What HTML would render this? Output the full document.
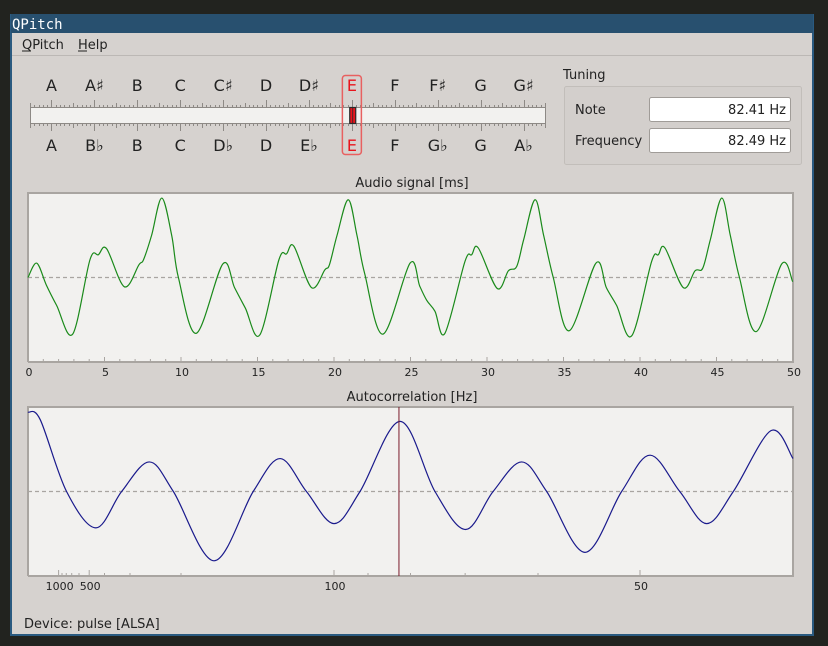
<!DOCTYPE html>
<html><head><meta charset="utf-8"><title>QPitch</title>
<style>
html,body{margin:0;padding:0;background:#22231f;width:828px;height:646px;overflow:hidden}
svg{display:block}
text{font-family:"DejaVu Sans","Liberation Sans",sans-serif;fill:#222}
</style></head>
<body>
<svg id="root" width="828" height="646" viewBox="0 0 828 646" xmlns="http://www.w3.org/2000/svg">
  <rect x="0" y="0" width="828" height="646" fill="#22231f"/>
  <g>
    <rect x="10" y="14" width="804" height="622" fill="#2a5a80"/>
    <rect x="12" y="33" width="800" height="601" fill="#d6d2cf"/>
    <rect x="11" y="14" width="802" height="19" fill="#28506f"/>
    <text x="12" y="29" font-size="14" style="font-family:'DejaVu Sans Mono','Liberation Mono',monospace;fill:#fff">QPitch</text>
    <g>
      <text x="22" y="49" font-size="13">QPitch</text>
      <line x1="22" y1="51" x2="31" y2="51" stroke="#222" stroke-width="1"/>
      <text x="78" y="49" font-size="13">Help</text>
      <line x1="78" y1="51" x2="87" y2="51" stroke="#222" stroke-width="1"/>
      <line x1="12" y1="55.5" x2="812" y2="55.5" stroke="#bcb8b5"/>
    </g>
    <g id="tuner"></g>
    <g>
      <text x="563" y="79" font-size="13">Tuning</text>
      <rect x="564.5" y="86.5" width="237" height="78" fill="#d3cfcc" stroke="#c2beba" rx="2"/>
      <text x="575" y="114" font-size="13">Note</text>
      <rect x="649.5" y="97.5" width="141" height="24" fill="#fff" stroke="#a09c98" rx="2"/>
      <text x="786" y="114" font-size="13" text-anchor="end">82.41 Hz</text>
      <text x="575" y="145" font-size="13">Frequency</text>
      <rect x="649.5" y="128.5" width="141" height="24" fill="#fff" stroke="#a09c98" rx="2"/>
      <text x="786" y="145" font-size="13" text-anchor="end">82.49 Hz</text>
    </g>
    <text x="412" y="187" font-size="13" text-anchor="middle">Audio signal [ms]</text>
    <g id="audio"></g>
    <text x="412" y="401" font-size="13" text-anchor="middle">Autocorrelation [Hz]</text>
    <g id="acorr"></g>
    <text x="24" y="628" font-size="13">Device: pulse [ALSA]</text>
  </g>
</svg>
<script>
// ---- Data ----
const noteSharps = ["A","A♯","B","C","C♯","D","D♯","E","F","F♯","G","G♯"];
const noteFlats = ["A","B♭","B","C","D♭","D","E♭","E","F","G♭","G","A♭"];
const activeNote = 7;
const centsOffset = 2;   // pointer offset in cents from the active note

const audioTicks = [0,5,10,15,20,25,30,35,40,45,50];
const audioTimes = [0,0.57,1.2,1.87,2.92,4.05,4.6,5.14,6.3,7.25,7.55,8.08,8.74,9.39,9.83,11.0,12.73,13.5,14.2,15.15,16.4,16.9,17.38,18.53,19.4,19.7,20.2,20.93,21.5,22.0,23.2,24.97,25.6,26.06,26.6,27.25,28.56,29.0,29.43,30.67,31.4,31.94,32.4,33.14,33.7,34.33,35.38,37.12,37.8,38.47,39.46,40.76,41.2,41.63,42.83,43.6,44.1,44.6,45.34,45.9,46.5,47.6,49.26,49.98];
const audioValues = [0,0.17,-0.09,-0.33,-0.67,0.21,0.27,0.34,-0.11,0.15,0.21,0.5,0.94,0.5,0,-0.66,0.16,-0.12,-0.36,-0.68,0.21,0.28,0.37,-0.12,0.09,0.15,0.5,0.92,0.5,0.05,-0.67,0.17,-0.1,-0.27,-0.40,-0.66,0.19,0.27,0.35,-0.13,0.08,0.13,0.45,0.92,0.5,0,-0.63,0.17,-0.12,-0.33,-0.69,0.19,0.27,0.35,-0.12,0.08,0.11,0.45,0.94,0.5,0,-0.64,0.16,-0.05];

const acorrLags = [0,0.4,1.26,2.22,3.06,3.96,4.75,6.08,7.36,8.24,9.1,10.0,10.85,12.16,13.3,14.3,15.2,16.13,16.95,18.2,19.4,20.33,21.3,22.18,23.05,24.28,25.0];
const acorrValues = [0.94,0.85,0,-0.43,0,0.35,0,-0.82,0,0.39,0,-0.38,0,0.83,0,-0.45,0,0.35,0,-0.72,0,0.43,0,-0.38,0,0.72,0.39];
const freqTicks = [1000,900,800,700,600,500,400,300,200,100,90,80,70,60,50,40];
const freqLabels = [1000,500,100,50];
const detectedFreq = 82.49;

const NS = "http://www.w3.org/2000/svg";
function mk(parent, tag, attrs){ const e=document.createElementNS(NS,tag); for(const k in attrs) e.setAttribute(k,attrs[k]); parent.appendChild(e); return e; }

// ---- Tuner scale ----
(function(){
  const g=document.getElementById('tuner');
  const x0=30, x1=545, step=(x1-x0)/12;
  const sx = i => x0 + step*(i+0.5);
  mk(g,'rect',{x:x0+0.5,y:107.5,width:x1-x0,height:16,fill:'#f2f1ef',stroke:'#8d8985'});
  for(let k=0;k<=120;k++){
    const x=Math.round(x0+step*(k/10))+0.5;
    const semi=((k-5)%10===0), half=(k%10===0);
    const h= semi?7:(half?4:2);
    mk(g,'line',{x1:x,y1:107,x2:x,y2:107-h,stroke:'#8d8985'});
    mk(g,'line',{x1:x,y1:124,x2:x,y2:124+h,stroke:'#8d8985'});
  }
  for(let i=0;i<12;i++){
    const on=i===activeNote;
    const a=mk(g,'text',{x:sx(i),y:91,'font-size':16,'text-anchor':'middle'});
    a.textContent=noteSharps[i]; if(on) a.style.fill='#e8141c';
    
    
    const b=mk(g,'text',{x:sx(i),y:151,'font-size':16,'text-anchor':'middle'});
    b.textContent=noteFlats[i]; if(on) b.style.fill='#e8141c';
    
    
  }
  const hx=sx(activeNote);
  const hl=mk(g,'rect',{x:hx-9.5,y:75.5,width:19,height:79,rx:3,fill:'none',stroke:'#e86060','stroke-width':1.5});
  
  
  const px=hx+centsOffset*step/100;
  const p=mk(g,'rect',{x:px-3,y:107.5,width:6,height:16,fill:'#e8141c',stroke:'#2a2a2a','stroke-width':1.2});
  
  
  mk(g,'line',{x1:px,y1:108,x2:px,y2:123,stroke:'#2a2a2a','stroke-width':0.8});
})();

function catmull(pts){
  let d='M'+pts[0][0].toFixed(2)+','+pts[0][1].toFixed(2);
  for(let i=0;i<pts.length-1;i++){
    const p0=pts[Math.max(0,i-1)],p1=pts[i],p2=pts[i+1],p3=pts[Math.min(pts.length-1,i+2)];
    const c1=[p1[0]+(p2[0]-p0[0])/6,p1[1]+(p2[1]-p0[1])/6];
    const c2=[p2[0]-(p3[0]-p1[0])/6,p2[1]-(p3[1]-p1[1])/6];
    d+=`C${c1[0].toFixed(2)},${c1[1].toFixed(2)} ${c2[0].toFixed(2)},${c2[1].toFixed(2)} ${p2[0].toFixed(2)},${p2[1].toFixed(2)}`;
  }
  return d;
}

function frame(g,L,T,R,B){
  mk(g,'rect',{x:L,y:T,width:R-L,height:B-T,fill:'#f2f1ef'});
  mk(g,'path',{d:`M${L},${B}V${T}H${R}V${B}H${L}`,fill:'none',stroke:'#a9a5a1','stroke-width':2});
  mk(g,'line',{x1:L,y1:(T+B)/2,x2:R,y2:(T+B)/2,stroke:'#a9a5a1','stroke-width':1.3,'stroke-dasharray':'4,3'});
}

// ---- Audio signal ----
(function(){
  const g=document.getElementById('audio');
  const L=28,R=793,T=193,B=362;
  const xS=t=>L+(t-0)/(50-0)*(R-L);
  const yS=v=>(T+B)/2 - v*(B-T)/2;
  frame(g,L,T,R,B);
  for(let t=0;t<=50;t++){
    const x=xS(t), major=t%5===0;
    mk(g,'line',{x1:x,y1:B,x2:x,y2:B-(major?5:3),stroke:'#a9a5a1'});
  }
  audioTicks.forEach(t=>{
    const tx=mk(g,'text',{x:xS(t)+1,y:376,'font-size':11,'text-anchor':'middle'});
    tx.textContent=t;
    
    
  });
  const pts=audioTimes.map((t,i)=>[xS(t),yS(audioValues[i])]);
  const path=mk(g,'path',{d:catmull(pts),fill:'none',stroke:'#1a8a1a','stroke-width':1.2});
  
  
})();

// ---- Autocorrelation ----
(function(){
  const g=document.getElementById('acorr');
  const L=28,R=793,T=407,B=576, maxLag=25;
  const xS=ms=>L+ms/maxLag*(R-L);
  const xF=f=>xS(1000/f);
  const yS=v=>(T+B)/2 - v*(B-T)/2;
  frame(g,L,T,R,B);
  freqTicks.forEach(f=>{
    const x=xF(f), lab=freqLabels.includes(f);
    mk(g,'line',{x1:x,y1:B,x2:x,y2:B-(lab?6:3),stroke:'#a9a5a1'});
  });
  freqLabels.forEach(f=>{
    const tx=mk(g,'text',{x:xF(f)+1,y:590,'font-size':11,'text-anchor':'middle'});
    tx.textContent=f;
    
    
  });
  const pts=acorrLags.map((t,i)=>[xS(t),yS(acorrValues[i])]);
  const path=mk(g,'path',{d:catmull(pts),fill:'none',stroke:'#1a1a8c','stroke-width':1.2});
  
  
  const mx=xF(detectedFreq);
  const m=mk(g,'line',{x1:mx,y1:T,x2:mx,y2:B,stroke:'#7a1a2a','stroke-width':1});
  
  
})();
</script>
</body></html>
